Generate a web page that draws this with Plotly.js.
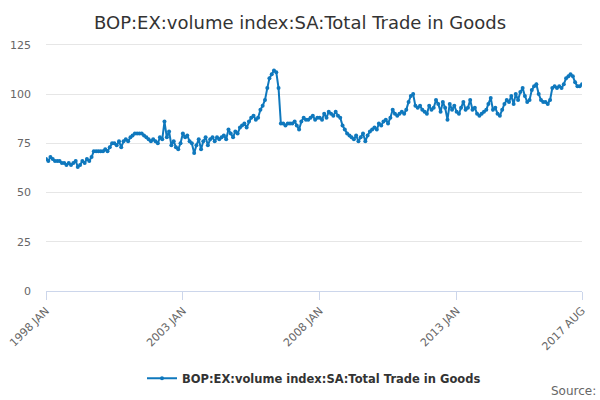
<!DOCTYPE html>
<html>
<head>
<meta charset="utf-8">
<script src="https://cdn.plot.ly/plotly-3.0.1.min.js"></script>
<style>html,body{margin:0;padding:0}#chart{width:600px;height:400px}</style>
</head>
<body>
<div id="chart"></div>
<script>
const startYear = 1998;
const values = [
  67,66,68,67,66,66,66,65,65,64,65,64,
  65,66,63,64,66,65,67,66,68,71,71,71,
  71,71,72,71,73,75,75,74,76,73,76,77,
  76,78,79,80,80,80,80,79,78,77,76,77,
  76,75,78,77,86,78,81,74,76,73,72,75,
  80,78,79,76,75,70,74,77,72,76,78,74,
  77,78,76,78,77,78,79,77,82,80,78,81,
  80,83,84,85,83,86,88,89,87,88,92,94,
  97,103,108,110,112,111,103,85,85,84,85,85,
  85,86,84,82,86,88,87,87,88,89,87,88,
  88,87,90,88,91,90,89,91,89,88,84,82,
  80,79,78,77,79,76,78,80,76,79,81,82,
  83,82,85,84,86,87,85,88,92,90,89,90,
  91,90,92,96,99,100,94,93,94,92,91,90,
  94,92,93,97,95,91,96,93,87,95,92,94,
  91,90,93,96,92,93,97,92,93,90,89,90,
  91,92,95,98,92,93,90,89,92,95,97,96,
  99,95,100,97,101,103,99,96,97,102,104,105,
  100,97,96,96,95,97,103,104,103,104,103,105,
  108,109,110,109,106,104,104,105
];
const tickVals = ['1998-01-01', '2003-01-01', '2008-01-01', '2013-01-01', '2017-08-01'];
const tickText = ['1998 JAN', '2003 JAN', '2008 JAN', '2013 JAN', '2017 AUG'];
const seriesName = 'BOP:EX:volume index:SA:Total Trade in Goods';

const dates = values.map((v, i) => {
  const y = startYear + Math.floor(i / 12);
  const m = String(i % 12 + 1).padStart(2, '0');
  return y + '-' + m + '-01';
});

const color = '#0f78bd';

Plotly.newPlot('chart', [{
  x: dates,
  y: values,
  name: seriesName,
  type: 'scatter',
  mode: 'lines+markers',
  line: { color: color, width: 2 },
  marker: { color: color, size: 4 }
}], {
  width: 600,
  height: 400,
  font: { family: 'DejaVu Sans, sans-serif', color: '#555' },
  title: { text: seriesName, font: { size: 18, color: '#333' }, x: 0.5, y: 0.958 },
  margin: { l: 46, r: 18, t: 31, b: 109, autoexpand: false },
  showlegend: true,
  legend: { orientation: 'h', x: 0.5, xanchor: 'center', y: -0.28, font: { size: 11.5, color: '#333', weight: 'bold' } },
  xaxis: {
    type: 'date',
    range: ['1998-01-01', '2017-08-01'],
    tickvals: tickVals,
    ticktext: tickText,
    tickangle: -45,
    tickfont: { size: 11, color: '#666' },
    showgrid: false,
    showline: true,
    linecolor: '#ccd6eb',
    ticks: 'outside',
    tickcolor: '#ccd6eb',
    ticklen: 8
  },
  yaxis: {
    range: [0, 132],
    tickvals: [0, 25, 50, 75, 100, 125],
    tickfont: { size: 11, color: '#666' },
    gridcolor: '#e6e6e6',
    zeroline: false,
    ticks: '',
    ticklabelstandoff: 14
  },
  annotations: [{
    text: 'Source:', xref: 'paper', yref: 'paper', x: 1.03, y: -0.35,
    xanchor: 'right', yanchor: 'top', showarrow: false, font: { size: 12, color: '#666' }
  }]
}, { displayModeBar: false });
</script>
</body>
</html>
